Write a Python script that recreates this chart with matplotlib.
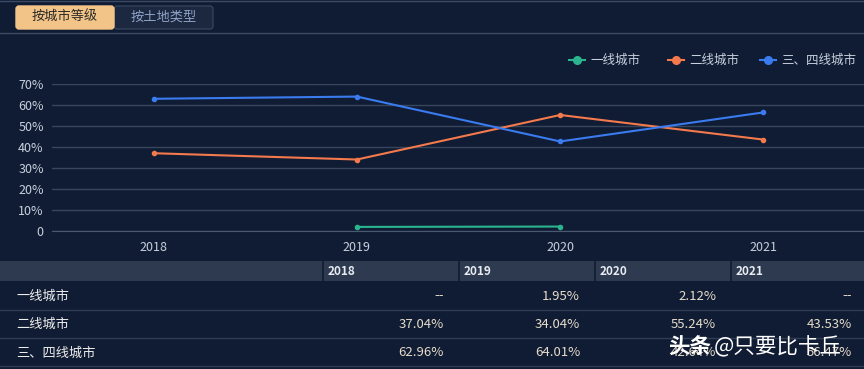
import matplotlib
matplotlib.use("Agg")
import matplotlib.pyplot as plt
from matplotlib.patches import Rectangle, FancyBboxPatch
import numpy as np

plt.rcParams['font.family'] = ['Noto Sans CJK SC', 'DejaVu Sans']

years = ["2018", "2019", "2020", "2021"]
series_names = ["一线城市", "二线城市", "三、四线城市"]
tier1 = [np.nan, 1.95, 2.12, np.nan]
tier2 = [37.04, 34.04, 55.24, 43.53]
tier34 = [62.96, 64.01, 42.64, 56.47]
series_values = [tier1, tier2, tier34]
colors = ["#2ab58e", "#f4794c", "#3a7bf0"]
yticks = [0, 10, 20, 30, 40, 50, 60, 70]
ytick_labels = ["0", "10%", "20%", "30%", "40%", "50%", "60%", "70%"]
buttons = ["按城市等级", "按土地类型"]
watermark_a = "头条"
watermark_b = "@只要比卡丘"

BG = "#101c33"
W, H = 864, 369
fig = plt.figure(figsize=(8.64, 3.69), dpi=100, facecolor=BG)

# overlay axes in pixel coordinates
ov = fig.add_axes([0, 0, 1, 1], zorder=0)
ov.set_xlim(0, W)
ov.set_ylim(H, 0)
ov.axis("off")
ov.set_facecolor(BG)

# top border lines
ov.plot([0, W], [1, 1], color="#3a4a62", lw=1)
ov.plot([0, W], [32.5, 32.5], color="#3a4a62", lw=1)

# buttons
ov.add_patch(FancyBboxPatch((114, 6), 99, 23, boxstyle="round,pad=0,rounding_size=3",
                            facecolor="#1c2840", edgecolor="#33415a", lw=1))
ov.add_patch(FancyBboxPatch((16, 6), 98, 23, boxstyle="round,pad=0,rounding_size=3",
                            facecolor="#f3c488", edgecolor="#f3c488", lw=1))
ov.text(65, 17.5, buttons[0], color="#2a2a2a", fontsize=9.5, ha="center", va="center")
ov.text(163.5, 17.5, buttons[1], color="#8fa3c8", fontsize=9.5, ha="center", va="center")

# legend
leg_pos = [(577, "一线城市"), (676, "二线城市"), (768, "三、四线城市")]
for (x, name), c in zip(leg_pos, colors):
    ov.plot([x - 8, x + 8], [59.5, 59.5], color=c, lw=1.5)
    ov.plot([x], [59.5], marker="o", ms=5.5, color=c)
    ov.text(x + 13, 60, name, color="#c8d0de", fontsize=9, ha="left", va="center")

# table
col_edges = [0, 323, 459, 595, 731, 864]
ov.add_patch(Rectangle((0, 261), W, 20, facecolor="#2d3a4f", edgecolor="none"))
for x in col_edges[1:-1]:
    ov.plot([x, x], [261, 281], color="#101c33", lw=1.2)
for i, y in enumerate(years):
    ov.text(col_edges[i + 1] + 5, 271.5, y, color="#e8ecf2", fontsize=8.5,
            fontweight="bold", ha="left", va="center")
row_y = [296, 324, 353]
for r, (name, vals) in enumerate(zip(series_names, series_values)):
    ov.text(16, row_y[r], name, color="#eeeeee", fontsize=9.5, ha="left", va="center")
    for i, v in enumerate(vals):
        s = "--" if np.isnan(v) else f"{v:.2f}%"
        ov.text(col_edges[i + 2] - 15 if i < 3 else W - 12, row_y[r], s,
                color="#e6dccb", fontsize=9.5, ha="right", va="center",
                family=["DejaVu Sans"] if s == "--" else None)
for y in [310, 338, 366]:
    ov.plot([0, W], [y, y], color="#2e3d55", lw=1)

# watermark (overlaps the table, as in the reference)
ov.text(668, 347, watermark_a, color="white", fontsize=15.5, fontweight="bold",
        ha="left", va="center", zorder=5)
ov.text(714, 347, watermark_b, color="white", fontsize=15.5,
        ha="left", va="center", zorder=5)

# chart axes
left, right, top, bottom = 52, 865, 84, 231
ax = fig.add_axes([left / W, (H - bottom) / H, (right - left) / W, (bottom - top) / H], zorder=2)
ax.set_facecolor("none")
x = np.arange(len(years))
for vals, c in zip(series_values, colors):
    ax.plot(x, vals, color=c, lw=1.5, marker="o", ms=3, zorder=3)
ax.set_xlim(-0.5, 3.5)
ax.set_ylim(0, 70)
ax.set_yticks(yticks)
ax.set_yticklabels(ytick_labels)
ax.set_xticks(x)
ax.set_xticklabels(years)
ax.grid(axis="y", color="#38465c", lw=1)
ax.set_axisbelow(True)
for s in ["top", "right", "left"]:
    ax.spines[s].set_visible(False)
ax.spines["bottom"].set_color("#4a5870")
ax.tick_params(axis="y", length=0, colors="#c8d0de", labelsize=9, pad=6)
ax.tick_params(axis="x", length=0, colors="#c8d0de", labelsize=9, pad=7)

fig.savefig("out.png", dpi=100, facecolor=BG)
